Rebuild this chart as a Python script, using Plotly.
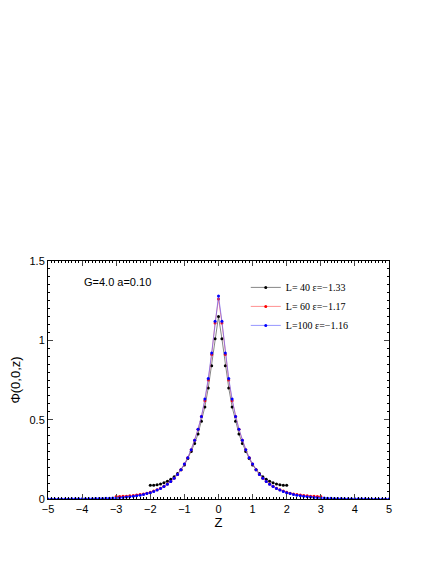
import plotly.graph_objects as go

# half-profiles, z = 0, 0.1, 0.2, ...
z_step = 0.1
phi40_half = [1.15,1.01,0.84,0.70,0.58,0.49,0.41,0.35,0.30,0.255,0.215,0.185,0.16,0.14,0.125,0.112,0.102,0.095,0.09,0.087,0.086]
phi60_half = [1.26,1.11,0.91,0.75,0.62,0.52,0.44,0.37,0.31,0.26,0.22,0.185,0.155,0.13,0.11,0.094,0.08,0.068,0.058,0.05,0.043,0.037,0.032,0.028,0.025,0.022,0.02,0.018,0.017,0.016,0.016]
phi100_half = [1.28,1.12,0.92,0.76,0.63,0.52,0.44,0.37,0.31,0.26,0.22,0.185,0.155,0.13,0.11,0.093,0.078,0.066,0.056,0.047,0.04,0.034,0.029,0.024,0.020,0.017,0.014,0.012,0.010,0.0085,0.007,0.006,0.005,0.0042,0.0035,0.003,0.0025,0.002,0.0017,0.0014,0.0012,0.001,0.0009,0.0008,0.0007,0.0006,0.0005,0.0004,0.0003,0.0002,0.0001]
names = ["L= 40 \u03b5=\u22121.33", "L= 60 \u03b5=\u22121.17", "L=100 \u03b5=\u22121.16"]
colors = ["black", "red", "blue"]
lines = ["rgba(0,0,0,0.6)", "rgba(255,80,80,0.8)", "rgba(90,90,255,0.8)"]

def full(h):
    n = len(h) - 1
    z = [round(i * z_step, 2) for i in range(-n, n + 1)]
    y = h[::-1] + h[1:]
    return z, y

fig = go.Figure()
for h, nm, c, lc in zip([phi40_half, phi60_half, phi100_half], names, colors, lines):
    z, y = full(h)
    fig.add_trace(go.Scatter(x=z, y=y, mode="lines+markers", name=nm,
                             line=dict(color=lc, width=0.8),
                             marker=dict(color=c, size=3)))

fig.add_annotation(x=-4, y=1.37, text="G=4.0 a=0.10", showarrow=False, xanchor="left",
                   font=dict(family="Liberation Sans", size=11, color="black"))
ax = dict(showline=True, linecolor="black", linewidth=1, mirror="allticks", ticks="inside",
          ticklen=5, showgrid=False, zeroline=False, automargin=False,
          minor=dict(ticks="inside", ticklen=2, tickcolor="black"),
          tickfont=dict(family="Liberation Sans", size=11, color="black"))
fig.update_xaxes(range=[-5, 5], dtick=1, title=dict(text="Z", font=dict(size=13, family="Liberation Sans", color="black"), standoff=2),
                 minor_dtick=0.1, **ax)
fig.update_yaxes(range=[0, 1.5], dtick=0.5, title=dict(text="\u03a6(0,0,z)", font=dict(size=13, family="Liberation Sans", color="black"), standoff=8),
                 minor_dtick=0.05, **ax)
fig.update_layout(width=436, height=564, margin=dict(l=40, r=55, t=253, b=73),
                  paper_bgcolor="white", plot_bgcolor="white",
                  legend=dict(x=0.58, y=0.95, xanchor="left", yanchor="top", bgcolor="rgba(0,0,0,0)",
                              font=dict(family="Liberation Serif", size=10, color="black"),
                              itemwidth=30, tracegroupgap=0))
fig.write_html("out.html")
